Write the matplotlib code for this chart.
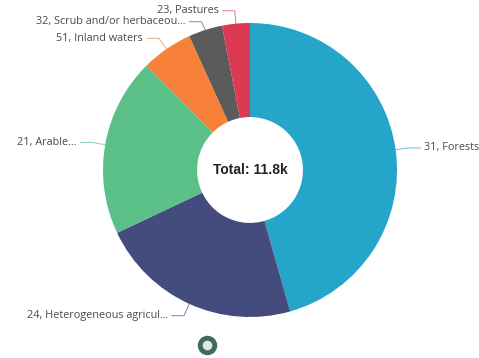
import numpy as np
import matplotlib
matplotlib.use("Agg")
import matplotlib.pyplot as plt

# land cover classes, values in hectares
labels = ["31, Forests", "24, Heterogeneous agricul...", "21, Arable...",
          "51, Inland waters", "32, Scrub and/or herbaceou...", "23, Pastures"]
values = [5380, 2640, 2310, 670, 440, 360]
colors = ["#25a5c9", "#444b7d", "#5bbf88", "#f88139", "#5b5b5b", "#dc3a52"]

W, H = 479, 358
R = 147.0          # outer radius in pixels
cx, cy = 250, 170  # pie centre in pixels (from top-left)

fig = plt.figure(figsize=(W / 100, H / 100), dpi=100)
ax = fig.add_axes([0, 0, 1, 1])

wedges, _ = ax.pie(values, colors=colors, startangle=90, counterclock=False,
                   radius=1.0, wedgeprops=dict(width=0.64, edgecolor="none"))

# pie() resets the limits, so set them afterwards
ax.set_xlim(-cx / R, (W - cx) / R)
ax.set_ylim(-(H - cy) / R, cy / R)
ax.set_aspect("equal")
ax.axis("off")

total = sum(values)
ax.text(0, 0, f"Total: {total / 1000:.1f}k", ha="center", va="center",
        fontsize=10, fontweight="bold", family="Liberation Sans", color="#222222")

# leader line anchors at each wedge mid angle
l1 = 13 / R
l2 = 12 / R
gap = 4 / R
items = []
for w, lab, col in zip(wedges, labels, colors):
    mid = np.deg2rad((w.theta1 + w.theta2) / 2)
    x0, y0 = np.cos(mid), np.sin(mid)
    x1, y1 = (1 + l1) * x0, (1 + l1) * y0
    side = 1 if x0 > 0 else -1
    items.append([side, x0, y0, x1, y1, lab, col])

# push labels apart vertically on each side
min_sep = 11 / R
for side in (1, -1):
    grp = sorted([it for it in items if it[0] == side], key=lambda it: -it[4])
    for a, b in zip(grp, grp[1:]):
        if a[4] - b[4] < min_sep:
            b[4] = a[4] - min_sep

for side, x0, y0, x1, y1, lab, col in items:
    x2 = x1 + side * l2
    ax.plot([x0, x1, x2], [y0, y1, y1], color=col, lw=0.7, alpha=0.7,
            solid_joinstyle="miter")
    ax.text(x2 + side * gap, y1, lab, ha="left" if side > 0 else "right",
            va="center", fontsize=7.8, family="Open Sans", color="#4a4a4a",
            clip_on=False)

# page indicator below the chart
ax.scatter([-43 / R], [-175 / R], s=110, facecolor="#e6e6e6",
           edgecolor="#3f6d57", linewidths=3.5, zorder=5)

fig.savefig("out.png", dpi=100, facecolor="white")
